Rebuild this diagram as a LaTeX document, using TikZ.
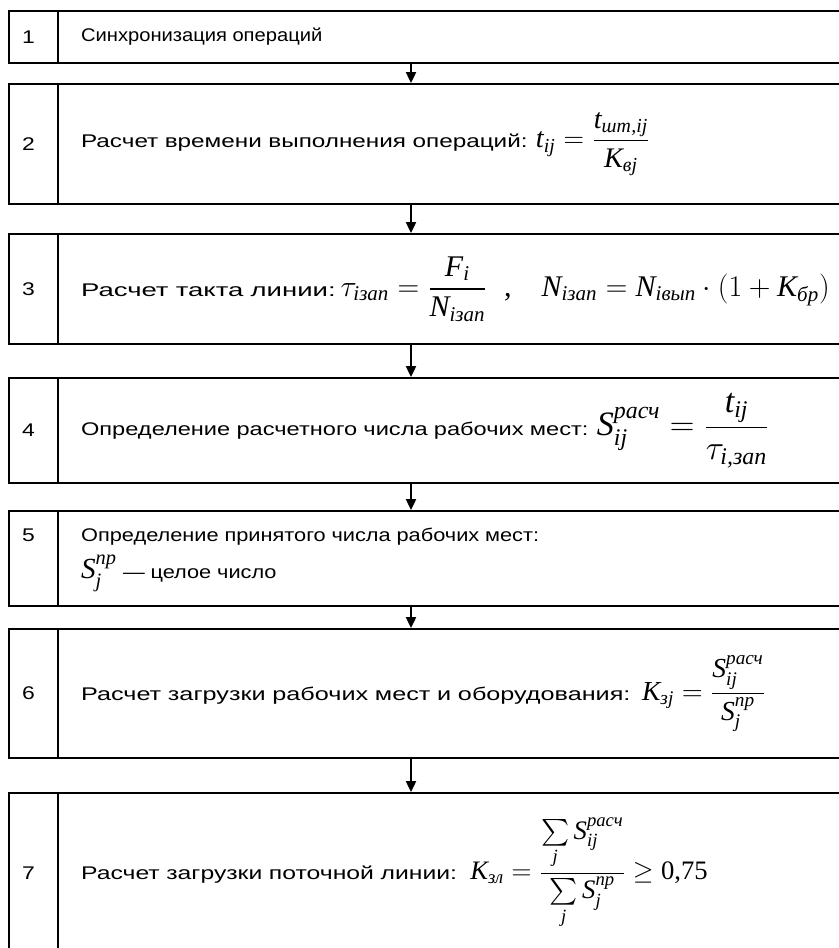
\RequirePackage{fix-cm}
\documentclass[tikz,border=0pt]{standalone}
\usepackage{amsmath,amssymb}
\usepackage{graphicx}
\usepackage{fontspec}
\setmainfont{Liberation Serif}
\newfontfamily\lblfont[FakeStretch=1.25]{Liberation Sans}
\usetikzlibrary{arrows.meta, positioning}

% italic / upright letters of the formulas
\newcommand{\fv}[1]{\text{\rmfamily\itshape #1}}
\newcommand{\up}[1]{\text{\rmfamily #1}}
\newcommand{\fml}[1]{\fontsize{#1}{#1}\selectfont}
% label text, widened to the width of the printed line
\newcommand{\lbl}[2]{\scalebox{#1}[1]{#2}}

\begin{document}
\begin{tikzpicture}[
    x=0.6pt, y=-0.6pt,
    >={Triangle[length=6.5pt, width=6pt]},
    stepbox/.style={draw, line width=1.3pt, anchor=north west, inner xsep=13.8pt, inner ysep=0pt,
                    text width=471pt, align=left, font=\lblfont\fontsize{11}{14}\selectfont},
    numbox/.style={draw, line width=1.3pt, anchor=north west, inner xsep=7.8pt, inner ysep=0pt,
                   text width=13.8pt, align=left, font=\lblfont\fontsize{11}{14}\selectfont},
    flow/.style={->, line width=1.1pt},
    ]
  \useasboundingbox (0,0) rectangle (839,948);
  \clip (0,0) rectangle (839,948);

  \node[stepbox, minimum height=31.2pt] (step1) at (57,10) {\lbl{0.88}{Синхронизация операций}};
  \node[stepbox, minimum height=72pt] (step2) at (57,83)
    {\lbl{1.06}{Расчет времени выполнения операций:}\hspace{5pt}{\fml{17}$\fv{t}_{\fv{ij}} = \dfrac{\fv{t}_{\fv{шт,ij}}}{\fv{К}_{\fv{вj}}}$}};
  \node[stepbox, minimum height=66pt] (step3) at (57,233)
    {\lbl{1.2}{Расчет такта линии:}\hspace{3pt}{\fml{18}$\tau_{\fv{iзап}} = \dfrac{\fv{F}_{\fv{i}}}{\fv{N}_{\fv{iзап}}}$\hspace{10pt}\up{,}\hspace{18pt}$\fv{N}_{\fv{iзап}} = \fv{N}_{\fv{iвып}}\cdot(1+\fv{K}_{\fv{бр}})$}};
  \node[stepbox, minimum height=63pt] (step4) at (57,377)
    {\lbl{1.03}{Определение расчетного числа рабочих мест:}\hspace{5pt}{\fml{20.5}$\fv{S}_{\fv{ij}}^{\fv{расч}} = \dfrac{\fv{t}_{\fv{ij}}}{\tau_{\fv{i,зап}}}$}};
  \node[stepbox, text height=18pt, text depth=39pt] (step5) at (57,510)
    {\lbl{0.95}{Определение принятого числа рабочих мест:}\\[5pt] {\fml{17.5}$\fv{S}_{\fv{j}}^{\fv{пр}}$} \lbl{0.95}{— целое число}};
  \node[stepbox, minimum height=77.4pt] (step6) at (57,628)
    {\lbl{1.1}{Расчет загрузки рабочих мест и оборудования:}\hspace{7pt}{\fml{16.5}$\fv{K}_{\fv{зj}} = \dfrac{\fv{S}_{\fv{ij}}^{\fv{расч}}}{\fv{S}_{\fv{j}}^{\fv{пр}}}$}};
  \node[stepbox, minimum height=96pt] (step7) at (57,792)
    {\lbl{1.08}{Расчет загрузки поточной линии:}\hspace{8pt}{\fml{16}$\fv{K}_{\fv{зл}} = \dfrac{\sum\limits_{\fv{j}}\fv{S}_{\fv{ij}}^{\fv{расч}}\rule[-4pt]{0pt}{0pt}}{\sum\limits_{\fv{j}}\fv{S}_{\fv{j}}^{\fv{пр}}} \geq \up{0,75}$}};

  \node[numbox, minimum height=31.2pt] (num1) at (8,10) {1};
  \node[numbox, minimum height=72pt] (num2) at (8,83) {2};
  \node[numbox, minimum height=66pt] (num3) at (8,233) {3};
  \node[numbox, minimum height=63pt] (num4) at (8,377) {4};
  \node[numbox, text height=18pt, text depth=39pt] (num5) at (8,510) {5};
  \node[numbox, minimum height=77.4pt] (num6) at (8,628) {6};
  \node[numbox, minimum height=96pt] (num7) at (8,792) {7};

  \coordinate (ax) at (411,0);
  \draw[flow] (step1.south -| ax) -- (step2.north -| ax);
  \draw[flow] (step2.south -| ax) -- (step3.north -| ax);
  \draw[flow] (step3.south -| ax) -- (step4.north -| ax);
  \draw[flow] (step4.south -| ax) -- (step5.north -| ax);
  \draw[flow] (step5.south -| ax) -- (step6.north -| ax);
  \draw[flow] (step6.south -| ax) -- (step7.north -| ax);
\end{tikzpicture}
\end{document}
